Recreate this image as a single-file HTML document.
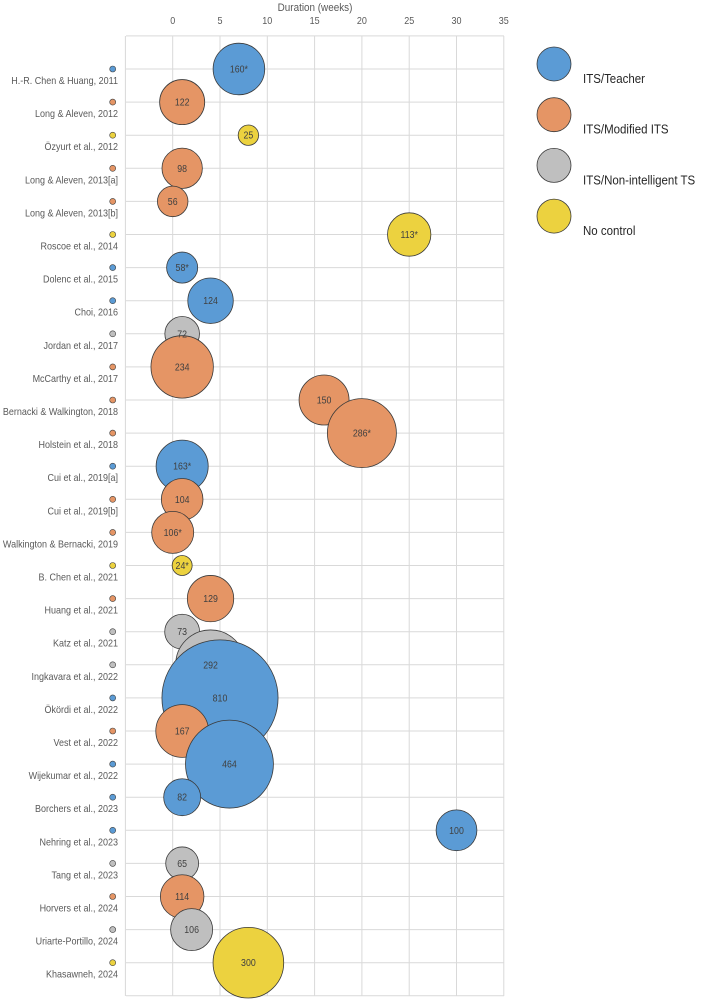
<!DOCTYPE html>
<html><head><meta charset="utf-8"><style>
body{margin:0;background:#fff;font-family:"Liberation Sans",sans-serif;}
svg text{font-family:"Liberation Sans",sans-serif;}
</style></head><body>
<svg id="chart" width="704" height="1000" viewBox="0 0 704 1000" xmlns="http://www.w3.org/2000/svg">
<g id="grid"></g>
<g id="ylabels"></g>
<g id="bubbles"></g>
<g id="blabels"></g>
<g id="xticks"></g>
<text transform="translate(315,11) scale(0.9,1)" font-size="11" fill="#595959" text-anchor="middle">Duration (weeks)</text>
<g id="legend"></g>
</svg>
<script>
const studies=["H.-R. Chen & Huang, 2011","Long & Aleven, 2012","Özyurt et al., 2012","Long & Aleven, 2013[a]","Long & Aleven, 2013[b]","Roscoe et al., 2014","Dolenc et al., 2015","Choi, 2016","Jordan et al., 2017","McCarthy et al., 2017","Bernacki & Walkington, 2018","Holstein et al., 2018","Cui et al., 2019[a]","Cui et al., 2019[b]","Walkington & Bernacki, 2019","B. Chen et al., 2021","Huang et al., 2021","Katz et al., 2021","Ingkavara et al., 2022","Ökördi et al., 2022","Vest et al., 2022","Wijekumar et al., 2022","Borchers et al., 2023","Nehring et al., 2023","Tang et al., 2023","Horvers et al., 2024","Uriarte-Portillo, 2024","Khasawneh, 2024"];
const durations=[7,1,8,1,0,25,1,4,1,1,16,20,1,1,0,1,4,1,4,5,1,6,1,30,1,1,2,8];
const sampleSizes=[160,122,25,98,56,113,58,124,72,234,150,286,163,104,106,24,129,73,292,810,167,464,82,100,65,114,106,300];
const sampleLabels=["160*","122","25","98","56","113*","58*","124","72","234","150","286*","163*","104","106*","24*","129","73","292","810","167","464","82","100","65","114","106","300"];
const groups=[0,1,3,1,1,3,0,0,2,1,1,1,0,1,1,3,1,2,2,0,1,0,0,0,2,1,2,3];
const groupNames=["ITS/Teacher","ITS/Modified ITS","ITS/Non-intelligent TS","No control"];
const xTicks=[0,5,10,15,20,25,30,35];
const colors=["#5b9bd5","#e59565","#bfbfbf","#ecd23f"];
const NS="http://www.w3.org/2000/svg";
const X0=172.7,PXW=9.46,plotL=126,plotR=504,plotT=36,plotB=996,ROW0=69,ROWH=33.1;
const xs=v=>X0+v*PXW, ys=i=>ROW0+i*ROWH, rs=v=>2.04*Math.sqrt(v);
function mk(tag,attrs,parent){const e=document.createElementNS(NS,tag);for(const k in attrs)e.setAttribute(k,attrs[k]);parent.appendChild(e);return e;}
const grid=document.getElementById('grid');
for(let v=-5;v<=35;v+=5){const l=mk('line',{x1:xs(v),x2:xs(v),y1:plotT,y2:plotB,stroke:'#d9d9d9','stroke-width':1},grid);

}
for(let i=-1;i<=studies.length;i++){const l=mk('line',{x1:plotL,x2:plotR,y1:ys(i),y2:ys(i),stroke:'#d9d9d9','stroke-width':1},grid);

}
const xt=document.getElementById('xticks');
xTicks.forEach(t=>{const e=mk('text',{transform:`translate(${xs(t)},24) scale(0.9,1)`,'font-size':10,fill:'#595959','text-anchor':'middle'},xt);e.textContent=t;

});
const yl=document.getElementById('ylabels');
studies.forEach((s,i)=>{const y=ys(i);
const d=mk('circle',{cx:112.7,cy:y,r:3,fill:colors[groups[i]],stroke:'#404040','stroke-width':0.6},yl);


const t=mk('text',{transform:`translate(118,${y+15}) scale(0.9,1)`,'font-size':10,fill:'#595959','text-anchor':'end'},yl);t.textContent=s;

});
const bg=document.getElementById('bubbles'),bl=document.getElementById('blabels');
studies.forEach((s,i)=>{const c=mk('circle',{cx:xs(durations[i]),cy:ys(i),r:rs(sampleSizes[i]),fill:colors[groups[i]],stroke:'#3a3a3a','stroke-width':0.8},bg);


const t=mk('text',{transform:`translate(${xs(durations[i])},${ys(i)+3.5}) scale(0.88,1)`,'font-size':10,fill:'#404040','text-anchor':'middle'},bl);t.textContent=sampleLabels[i];

});
const lg=document.getElementById('legend');
groupNames.forEach((g,i)=>{const cy=64+i*50.7;
const c=mk('circle',{cx:554,cy:cy,r:17,fill:colors[i],stroke:'#3a3a3a','stroke-width':0.8},lg);


const t=mk('text',{transform:`translate(583,${cy+19}) scale(0.92,1)`,'font-size':12.5,fill:'#262626'},lg);t.textContent=g;

});
</script>
</body></html>
